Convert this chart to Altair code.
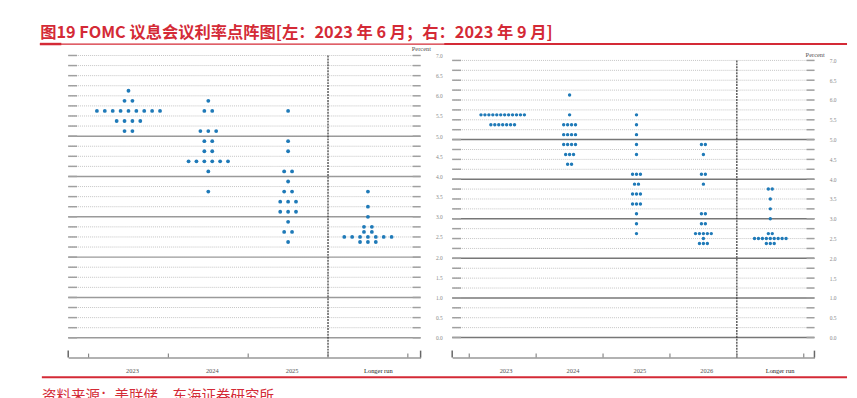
import altair as alt
import pandas as pd

TITLE = "图19  FOMC 议息会议利率点阵图[左：2023 年 6 月；右：2023 年 9 月]"
SOURCE = "资料来源：美联储，东海证券研究所"

# ---- June 2023 SEP (left) : (rate, number of participants)
jun_categories = ["2023", "2024", "2025", "Longer run"]
jun_2023 = [(6.125, 1), (5.875, 2), (5.625, 9), (5.375, 4), (5.125, 2)]
jun_2024 = [(5.875, 1), (5.625, 2), (5.125, 3), (4.875, 2), (4.625, 2),
            (4.375, 6), (4.125, 1), (3.625, 1)]
jun_2025 = [(5.625, 1), (4.875, 1), (4.625, 1), (4.125, 2), (3.875, 1),
            (3.625, 2), (3.375, 3), (3.125, 3), (2.875, 1), (2.625, 2), (2.375, 1)]
jun_longer = [(3.625, 1), (3.25, 1), (3.0, 1), (2.75, 2), (2.625, 2), (2.5, 7), (2.375, 3)]

# ---- September 2023 SEP (right)
sep_categories = ["2023", "2024", "2025", "2026", "Longer run"]
sep_2023 = [(5.625, 12), (5.375, 7)]
sep_2024 = [(6.125, 1), (5.625, 1), (5.375, 4), (5.125, 4), (4.875, 4), (4.625, 3), (4.375, 2)]
sep_2025 = [(5.625, 1), (5.375, 1), (5.125, 1), (4.875, 1), (4.625, 1), (4.125, 3),
            (3.875, 2), (3.625, 3), (3.375, 3), (3.125, 1), (2.875, 1), (2.625, 1)]
sep_2026 = [(4.875, 2), (4.625, 1), (4.125, 2), (3.875, 1), (3.125, 2), (2.875, 2),
            (2.625, 5), (2.5, 1), (2.375, 3)]
sep_longer = [(3.75, 2), (3.5, 1), (3.25, 1), (3.0, 1), (2.625, 2), (2.5, 9), (2.375, 3)]

grid_levels = [q * 0.25 for q in range(29)]
label_levels = [q * 0.5 for q in range(15)]

BLUE = "#1f7ab8"
RED = "#d42a36"
SERIF = "Liberation Serif"
CJK = "Noto Sans CJK SC"


def panel(cats, series, step, W, H, ydom, dot_size, pct_y, solid_color, extras=None):
    n = len(cats)
    xdom = [-0.255, n + 0.16]
    xs = alt.Scale(domain=xdom, nice=False, zero=False)
    ys = alt.Scale(domain=ydom, nice=False, zero=False)

    xaxis = alt.Axis(orient="bottom", domain=True, domainColor="#999999", domainWidth=1.5,
                     ticks=False, labels=False, grid=False, title=None)
    yaxis = alt.Axis(orient="right", values=label_levels, format=".1f",
                     labelFont=SERIF, labelFontSize=5.5, labelColor="#888888",
                     labelPadding=15, ticks=False, tickSize=0, domain=False, grid=False,
                     labelAlign="left", labelBaseline="middle", labelFlush=False,
                     labelOverlap=False,
                     title="Percent", titleAngle=0, titleX=10, titleY=pct_y,
                     titleAlign="right", titleBaseline="middle", titleFont=SERIF,
                     titleFontSize=6.5, titleFontWeight="normal", titleColor="#555555")

    def X(f):
        return alt.X(f, scale=xs, axis=xaxis)

    def Y(f):
        return alt.Y(f, scale=ys, axis=yaxis)

    rows = []
    for i, s in enumerate(series):
        for rate, cnt in s:
            for k in range(cnt):
                rows.append({"u": i + 0.5 + (k - (cnt - 1) / 2) * step,
                             "rate": rate, "cat": cats[i]})
    dots = pd.DataFrame(rows)

    grid = pd.DataFrame({"level": grid_levels})
    grid["solid"] = [(lv % 1 == 0 and lv <= 5) for lv in grid_levels]
    g_dot = grid[~grid["solid"]]
    g_sol = grid[grid["solid"]]

    dotted = alt.Chart(g_dot).mark_rule(color="#c4c4c4", strokeDash=[1, 1], strokeWidth=1).encode(
        y=Y("level:Q"), x=alt.value(0), x2=alt.value(W))
    solid = alt.Chart(g_sol).mark_rule(color=solid_color, strokeWidth=1.5).encode(
        y=Y("level:Q"), x=alt.value(0), x2=alt.value(W))
    end_l = alt.Chart(grid).mark_rule(color="#a0a0a0", strokeWidth=1.5).encode(
        y=Y("level:Q"), x=alt.value(0), x2=alt.value(9))
    end_r = alt.Chart(grid).mark_rule(color="#a0a0a0", strokeWidth=1.5).encode(
        y=Y("level:Q"), x=alt.value(W - 8), x2=alt.value(W))

    divider = alt.Chart(pd.DataFrame({"u": [n - 1], "top": [7.0]})).mark_rule(
        color="#333333", strokeDash=[2, 1], strokeWidth=1.2).encode(
        x=X("u:Q"), y=Y("top:Q"), y2=alt.value(H))

    ticks = alt.Chart(pd.DataFrame({"u": list(range(n + 1))})).mark_rule(
        color="#888888", strokeWidth=1.2).encode(
        x=X("u:Q"), y=alt.value(H - 4), y2=alt.value(H))
    brackets = alt.Chart(pd.DataFrame({"u": xdom})).mark_rule(
        color="#666666", strokeWidth=1.5).encode(
        x=X("u:Q"), y=alt.value(H - 7), y2=alt.value(H))

    points = alt.Chart(dots).mark_circle(size=dot_size, color=BLUE, opacity=1).encode(
        x=X("u:Q"), y=Y("rate:Q"), tooltip=["cat:N", "rate:Q"])

    lab = pd.DataFrame({"cat": cats, "u": [i + 0.55 for i in range(n)]})
    years = alt.Chart(lab[lab["cat"] != "Longer run"]).mark_text(
        font=SERIF, fontSize=6.5, color="#555555", baseline="middle").encode(
        x=X("u:Q"), y=alt.value(H + 14), text="cat:N")
    longer = alt.Chart(lab[lab["cat"] == "Longer run"]).mark_text(
        font=SERIF, fontSize=6.5, color="#222222", baseline="middle", dx=6.5).encode(
        x=X("u:Q"), y=alt.value(H + 14), text="cat:N")

    layers = [dotted, solid, end_l, end_r, divider, ticks, brackets, points, years, longer]
    if extras:
        layers += extras
    return alt.layer(*layers).properties(width=W, height=H)


H = 306
# header / footer decorations (drawn in the left panel's pixel frame)
one = pd.DataFrame({"t": [TITLE]})
title_txt = alt.Chart(one).mark_text(
    align="left", baseline="alphabetic", font=CJK, fontSize=16.5, fontWeight="bold",
    color=RED).encode(text="t:N", x=alt.value(-28.4), y=alt.value(-17.3))
under_thin = alt.Chart(one).mark_rule(color=RED, strokeWidth=1.2).encode(
    x=alt.value(-28.7), x2=alt.value(789), y=alt.value(-11.6))
under_l = alt.Chart(one).mark_rule(color=RED, strokeWidth=2.5).encode(
    x=alt.value(-28.7), x2=alt.value(-7), y=alt.value(-11.6))
under_r = alt.Chart(one).mark_rule(color=RED, strokeWidth=2.2).encode(
    x=alt.value(381), x2=alt.value(789), y=alt.value(-11.6))
src = pd.DataFrame({"t": [SOURCE]})
foot_line = alt.Chart(src).mark_rule(color=RED, strokeWidth=2).encode(
    x=alt.value(-26.7), x2=alt.value(789), y=alt.value(326))
foot_txt = alt.Chart(src).mark_text(
    align="left", baseline="alphabetic", font=CJK, fontSize=14.7, color=RED).encode(
    text="t:N", x=alt.value(-26.5), y=alt.value(350))

left = panel(jun_categories, [jun_2023, jun_2024, jun_2025, jun_longer],
             step=0.0988, W=357, H=H, ydom=[-0.49, 7.0], dot_size=15, pct_y=-6.6,
             solid_color="#9a9a9a",
             extras=[title_txt, under_thin, under_l, under_r, foot_line, foot_txt])
right = panel(sep_categories, [sep_2023, sep_2024, sep_2025, sep_2026, sep_longer],
              step=0.059, W=367, H=H, ydom=[-0.506, 7.125], dot_size=12, pct_y=-0.6,
              solid_color="#777777")

chart = alt.hconcat(left, right, spacing=32, bounds="flush").configure_view(
    stroke=None).properties(padding={"left": 31, "top": 14.5, "right": 0, "bottom": 0},
                            background="white")

chart.save("out.html", embed_options={"renderer": "svg", "actions": False})
